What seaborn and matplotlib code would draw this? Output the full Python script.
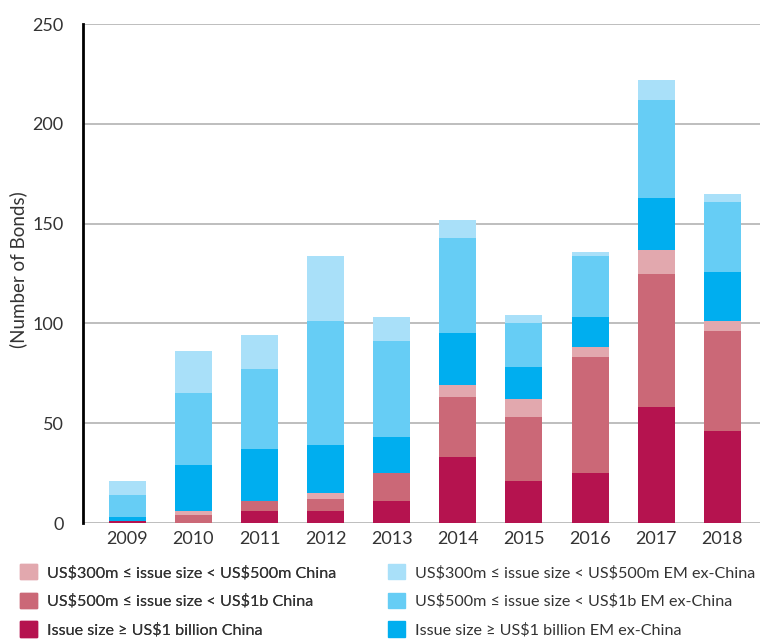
import numpy as np
import pandas as pd
import matplotlib
matplotlib.use("Agg")
import matplotlib.pyplot as plt
from matplotlib.patches import Patch
import seaborn as sns

# Data (number of bonds)
years = ["2009", "2010", "2011", "2012", "2013", "2014", "2015", "2016", "2017", "2018"]
china_1b = [1, 0, 6, 6, 11, 33, 21, 25, 58, 46]
china_500m = [0, 4, 5, 6, 14, 30, 32, 58, 67, 50]
china_300m = [0, 2, 0, 3, 0, 6, 9, 5, 12, 5]
em_1b = [2, 23, 26, 24, 18, 26, 16, 15, 26, 25]
em_500m = [11, 36, 40, 62, 48, 48, 22, 31, 49, 35]
em_300m = [7, 21, 17, 33, 12, 9, 4, 2, 10, 4]

labels = [
    "Issue size \u2265 US\\$1 billion China",
    "US\\$500m \u2264 issue size < US\\$1b China",
    "US\\$300m \u2264 issue size < US\\$500m China",
    "Issue size \u2265 US\\$1 billion EM ex-China",
    "US\\$500m \u2264 issue size < US\\$1b EM ex-China",
    "US\\$300m \u2264 issue size < US\\$500m EM ex-China",
]
colors = ["#B5134F", "#CB6877", "#E2A8AE", "#00AEEF", "#66CDF5", "#A9E0F9"]

sns.set_theme(style="white")
plt.rcParams['font.family'] = ['Lato', 'DejaVu Sans']
text_color = "#333333"

df = pd.DataFrame({
    "year": years,
    labels[0]: china_1b,
    labels[1]: china_500m,
    labels[2]: china_300m,
    labels[3]: em_1b,
    labels[4]: em_500m,
    labels[5]: em_300m,
})
cum = df[labels].cumsum(axis=1)

fig = plt.figure(figsize=(7.63, 6.39), dpi=100)
ax = fig.add_axes([0.1088, 0.1815, 0.8872, 0.7809])

# stacked bars: draw cumulative totals from top layer down
for lab, col in reversed(list(zip(labels, colors))):
    sns.barplot(x=df["year"], y=cum[lab], color=col, width=0.56,
                saturation=1, ax=ax, linewidth=0, edgecolor=col)

ax.set_ylim(0, 250)
ax.set_xlim(-0.67, 9.57)
ax.set_yticks([0, 50, 100, 150, 200, 250])
ax.yaxis.grid(True, color="#b3b3b3", linewidth=1.2)
ax.set_axisbelow(True)
for s in ["top", "right", "bottom"]:
    ax.spines[s].set_visible(False)
ax.spines["left"].set_color("black")
ax.spines["left"].set_linewidth(2)
ax.tick_params(axis="both", length=0, labelsize=13, colors=text_color)
ax.tick_params(axis="y", pad=14)
ax.tick_params(axis="x", pad=6)
ax.set_xlabel("")
ax.set_ylabel("")
fig.text(18 / 763, 1 - 270 / 639, "(Number of Bonds)", rotation=90,
         ha="center", va="center", fontsize=13.5, color=text_color)

# legend: China column on the left, EM ex-China column on the right
leg_kw = dict(loc="upper left", frameon=False, fontsize=11.6, handlelength=1.08,
              handleheight=1.08, handletextpad=0.6, labelspacing=0.78,
              borderpad=0, borderaxespad=0, labelcolor=text_color)
h1 = [Patch(color=colors[i], label=labels[i]) for i in [2, 1, 0]]
h2 = [Patch(color=colors[i], label=labels[i]) for i in [5, 4, 3]]
leg1 = fig.legend(handles=h1, bbox_to_anchor=(20 / 763, 1 - 564 / 639), **leg_kw)
fig.add_artist(leg1)
fig.legend(handles=h2, bbox_to_anchor=(388 / 763, 1 - 564 / 639), **leg_kw)

fig.savefig("out.png", dpi=100)
